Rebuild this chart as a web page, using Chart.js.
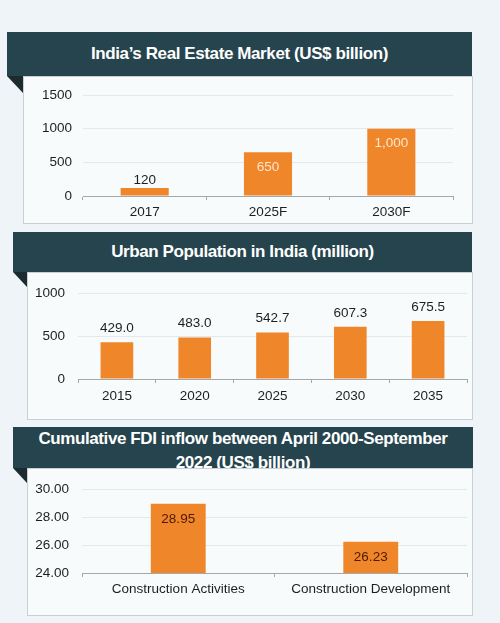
<!DOCTYPE html>
<html>
<head>
<meta charset="utf-8">
<script src="https://cdn.jsdelivr.net/npm/chart.js@4.4.1/dist/chart.umd.min.js"></script>
<style>
  html, body { margin: 0; padding: 0; }
  body { width: 500px; height: 623px; background: #eef4f7; position: relative; overflow: hidden;
         font-family: "Liberation Sans", Arial, sans-serif; }
  .head { position: absolute; background: #25444d; color: #fff; font-weight: bold; font-size: 17px; letter-spacing: -0.4px;
          display: flex; align-items: center; justify-content: center; text-align: center; line-height: 24px; }
  .fold { position: absolute; width: 0; height: 0; border-top: 17px solid #1b2b30; border-left: 16px solid transparent; }
  .box { position: absolute; background: #f8fbfc; border: 1px solid #c9d0d3; box-sizing: border-box; }
  canvas { position: absolute; }
</style>
</head>
<body>
<div class="head" style="left:7px;top:32px;width:465px;height:44px;">India’s Real Estate Market (US$ billion)</div>
<div class="fold" style="left:7px;top:76px;"></div>
<div class="box" style="left:23px;top:76px;width:450px;height:148px;"></div>
<canvas id="c1" width="449" height="147" style="left:23px;top:76px;"></canvas>

<div class="head" style="left:13px;top:232px;width:459px;height:40px;">Urban Population in India (million)</div>
<div class="fold" style="left:13px;top:272px;border-top-width:15px;border-left-width:14px;"></div>
<div class="box" style="left:27px;top:272px;width:446px;height:148px;"></div>
<canvas id="c2" width="445" height="147" style="left:27px;top:272px;"></canvas>

<div class="head" style="left:13px;top:427px;width:460px;height:41px;align-items:flex-start;"><div>Cumulative FDI inflow between April 2000-September<br>2022 (US$ billion)</div></div>
<div class="fold" style="left:13px;top:468px;border-top-width:15px;border-left-width:14px;"></div>
<div class="box" style="left:27px;top:468px;width:446px;height:148px;"></div>
<canvas id="c3" width="445" height="147" style="left:27px;top:468px;"></canvas>

<script>
// datos de las tres gráficas
const reYears = ['2017', '2025F', '2030F'];
const reValues = [120, 650, 1000];
const reTicks = [0, 500, 1000, 1500];

const popYears = ['2015', '2020', '2025', '2030', '2035'];
const popValues = [429.0, 483.0, 542.7, 607.3, 675.5];
const popTicks = [0, 500, 1000];

const fdiSectors = ['Construction Activities', 'Construction Development'];
const fdiValues = [28.95, 26.23];
const fdiTicks = [24, 26, 28, 30];

const naranja = '#f0862a';
const fuente = '"Liberation Sans", Arial, sans-serif';

// etiquetas de valor sobre / dentro de las barras
const barLabels = {
  id: 'barLabels',
  afterDatasetsDraw(chart, args, opts) {
    const ctx = chart.ctx;
    const meta = chart.getDatasetMeta(0);
    const data = chart.data.datasets[0].data;
    ctx.save();
    ctx.font = '13.5px ' + fuente;
    ctx.textAlign = 'center';
    ctx.textBaseline = 'middle';
    meta.data.forEach((bar, i) => {
      const txt = opts.fmt(data[i]);
      let y;
      if (opts.pos[i] === 'out') {
        y = bar.y - opts.outOff;
      } else {
        y = Math.min(bar.y + 15, (bar.y + bar.base) / 2 - 3);
      }
      ctx.fillStyle = opts.color[i];
      ctx.fillText(txt, bar.x, y);
    });
    ctx.restore();
  }
};

function crearGrafico(id, labels, values, cfg) {
  new Chart(document.getElementById(id), {
    type: 'bar',
    data: {
      labels: labels,
      datasets: [{
        data: values,
        backgroundColor: naranja,
        barPercentage: cfg.barPct,
        categoryPercentage: 1
      }]
    },
    options: {
      responsive: false,
      animation: false,
      devicePixelRatio: 1,
      layout: { padding: { top: 15, right: cfg.padRight, bottom: 0, left: 0 } },
      plugins: {
        legend: { display: false },
        tooltip: { enabled: false },
        barLabels: cfg.labels
      },
      scales: {
        x: {
          grid: { offset: true, drawOnChartArea: false, drawTicks: true, tickLength: 4, color: '#a3a8aa' },
          border: { display: true, color: '#a3a8aa' },
          ticks: { color: '#1e1e1e', font: { size: 13.5, family: fuente }, padding: cfg.xPad, maxRotation: 0 },
          afterFit: s => { s.height = cfg.xHeight; }
        },
        y: {
          min: cfg.ticks[0],
          max: cfg.ticks[cfg.ticks.length - 1],
          afterBuildTicks: s => { s.ticks = cfg.ticks.map(v => ({ value: v })); },
          grid: { color: '#e3e8ea', drawTicks: false },
          border: { display: false },
          ticks: { color: '#1e1e1e', font: { size: 13.5, family: fuente }, padding: cfg.yPad, callback: cfg.yFmt },
          afterFit: s => { s.width = cfg.yWidth; }
        }
      }
    },
    plugins: [barLabels]
  });
}

crearGrafico('c1', reYears, reValues, {
  barPct: 0.39, padRight: 19, xHeight: 27, xPad: 4, yWidth: 60, yPad: 11,
  ticks: reTicks, yFmt: v => v,
  labels: { pos: ['out', 'in', 'in'], color: ['#1e1e1e', '#fde7cf', '#fde7cf'], outOff: 8,
            fmt: v => v.toLocaleString('en-US') }
});

crearGrafico('c2', popYears, popValues, {
  barPct: 0.42, padRight: 5, xHeight: 40, xPad: 5, yWidth: 51, yPad: 13,
  ticks: popTicks, yFmt: v => v,
  labels: { pos: ['out', 'out', 'out', 'out', 'out'], color: Array(5).fill('#1e1e1e'), outOff: 14,
            fmt: v => v.toFixed(1) }
});

crearGrafico('c3', fdiSectors, fdiValues, {
  barPct: 0.285, padRight: 5, xHeight: 42, xPad: 4, yWidth: 55, yPad: 13,
  ticks: fdiTicks, yFmt: v => v.toFixed(2),
  labels: { pos: ['in', 'in'], color: ['#4a1a0a', '#4a1a0a'], outOff: 8,
            fmt: v => v.toFixed(2) }
});
</script>
</body>
</html>
